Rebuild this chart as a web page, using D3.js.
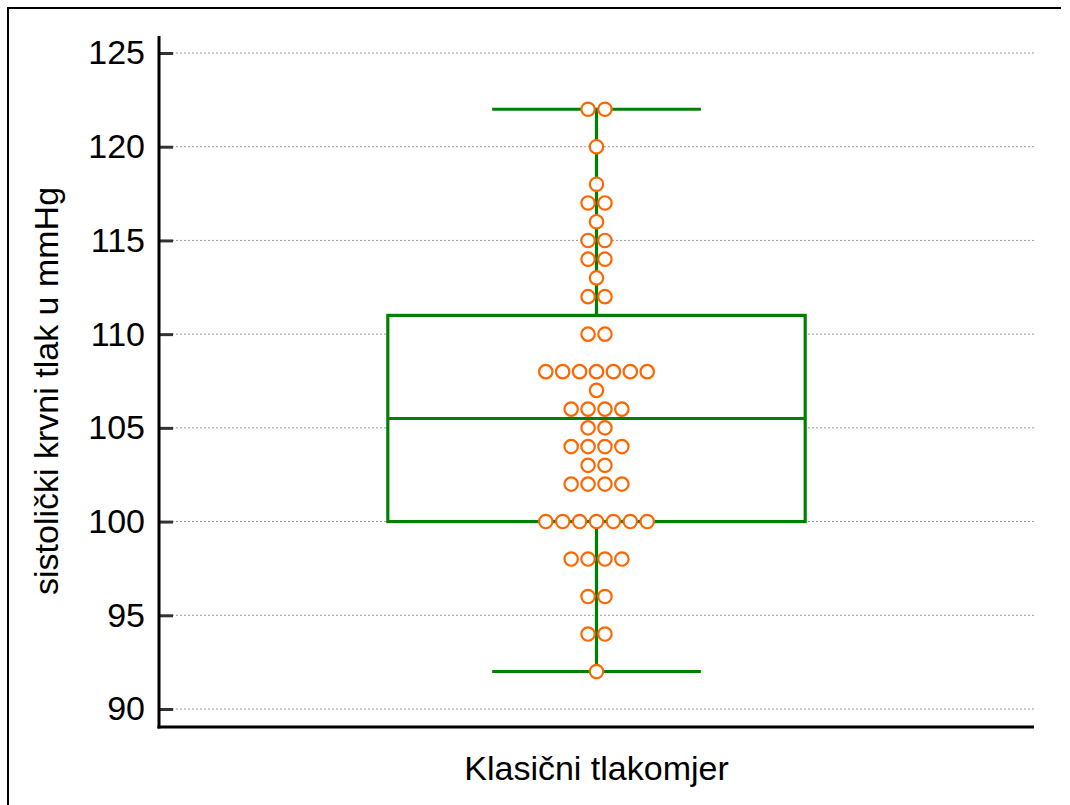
<!DOCTYPE html>
<html><head><meta charset="utf-8">
<script src="https://cdn.jsdelivr.net/npm/d3@7"></script>
<style>body{margin:0;background:#fff}svg{display:block}text{font-family:"Liberation Sans",Arial,sans-serif;fill:#000}</style>
</head><body>
<svg id="c" width="1070" height="805"></svg>
<script>
const category = "Klasični tlakomjer";
const yLabel = "sistolički krvni tlak u mmHg";
const yTicks = [90, 95, 100, 105, 110, 115, 120, 125];
// observed values and how many points sit at each
const pointValues = [122,120,118,117,116,115,114,113,112,110,108,107,106,105,104,103,102,100,98,96,94,92];
const pointCounts = [2,1,1,2,1,2,2,1,2,2,7,1,4,2,4,2,4,7,4,2,2,1];
const boxStats = {min: 92, q1: 100, median: 105.5, q3: 111, max: 122};

(function () {
const svg = d3.select("#c");
const W = 1070, H = 805;
svg.append("rect").attr("width", W).attr("height", H).attr("fill", "#fff");
// outer frame (left & top visible)
svg.append("path").attr("d", "M8,805V8H1061").attr("fill", "none").attr("stroke", "#000").attr("stroke-width", 2);

const pL = 159, pR = 1034, pT = 36, pB = 727;
const y = d3.scaleLinear().domain([90, 125]).range([709, 53]);
const x = d3.scaleBand().domain([category]).range([pL, pR]);
const cx = x(category) + x.bandwidth() / 2;

// gridlines
svg.append("g").selectAll("line").data(yTicks).join("line")
  .attr("x1", pL + 13).attr("x2", pR).attr("y1", d => y(d)).attr("y2", d => y(d))
  .attr("stroke", "#999").attr("stroke-width", 1).attr("stroke-dasharray", "2,2");

// y axis
const yAxis = d3.axisLeft(y).tickValues(yTicks).tickSize(-14).tickPadding(14);
const gy = svg.append("g").attr("transform", `translate(${pL},0)`).call(yAxis);
gy.select(".domain").remove();
gy.selectAll(".tick line").attr("stroke", "#333").attr("stroke-width", 3);
gy.selectAll(".tick text").attr("font-size", 34).attr("font-family", "Liberation Sans, Arial, sans-serif").attr("fill", "#000");
svg.append("line").attr("x1", pL).attr("x2", pL).attr("y1", pT).attr("y2", pB + 1.5)
  .attr("stroke", "#000").attr("stroke-width", 3);
svg.append("line").attr("x1", pL - 1.5).attr("x2", pR).attr("y1", pB).attr("y2", pB)
  .attr("stroke", "#000").attr("stroke-width", 3);

// x axis label
svg.append("text").attr("x", cx).attr("y", 780).attr("text-anchor", "middle").attr("font-size", 34).text(category);
// y axis title
svg.append("text").attr("transform", `translate(58,391) rotate(-90)`)
  .attr("text-anchor", "middle").attr("font-size", 34).text(yLabel);

// box plot
const green = "#008000";
const bw = x.bandwidth() * 0.477;
const cw = bw / 2;
const g = svg.append("g").attr("stroke", green).attr("stroke-width", 3.2).attr("fill", "none");
g.append("line").attr("x1", cx).attr("x2", cx).attr("y1", y(boxStats.max)).attr("y2", y(boxStats.min));
g.append("rect").attr("x", cx - bw / 2).attr("width", bw).attr("y", y(boxStats.q3))
  .attr("height", y(boxStats.q1) - y(boxStats.q3)).attr("fill", "#fff");
g.append("line").attr("x1", cx - bw / 2).attr("x2", cx + bw / 2).attr("y1", y(boxStats.median)).attr("y2", y(boxStats.median));
[boxStats.min, boxStats.max].forEach(v => g.append("line").attr("x1", cx - cw / 2).attr("x2", cx + cw / 2).attr("y1", y(v)).attr("y2", y(v)));

// dots
const pts = [];
pointValues.forEach((v, i) => {
  const n = pointCounts[i];
  for (let k = 0; k < n; k++) pts.push({v, off: k - (n - 1) / 2});
});
const sp = 16.9;
svg.append("g").selectAll("circle").data(pts).join("circle")
  .attr("cx", d => cx + d.off * sp).attr("cy", d => y(d.v)).attr("r", 6.7)
  .attr("fill", "#fff").attr("stroke", "#ff6600").attr("stroke-width", 2.2);
})();
</script>
</body></html>
